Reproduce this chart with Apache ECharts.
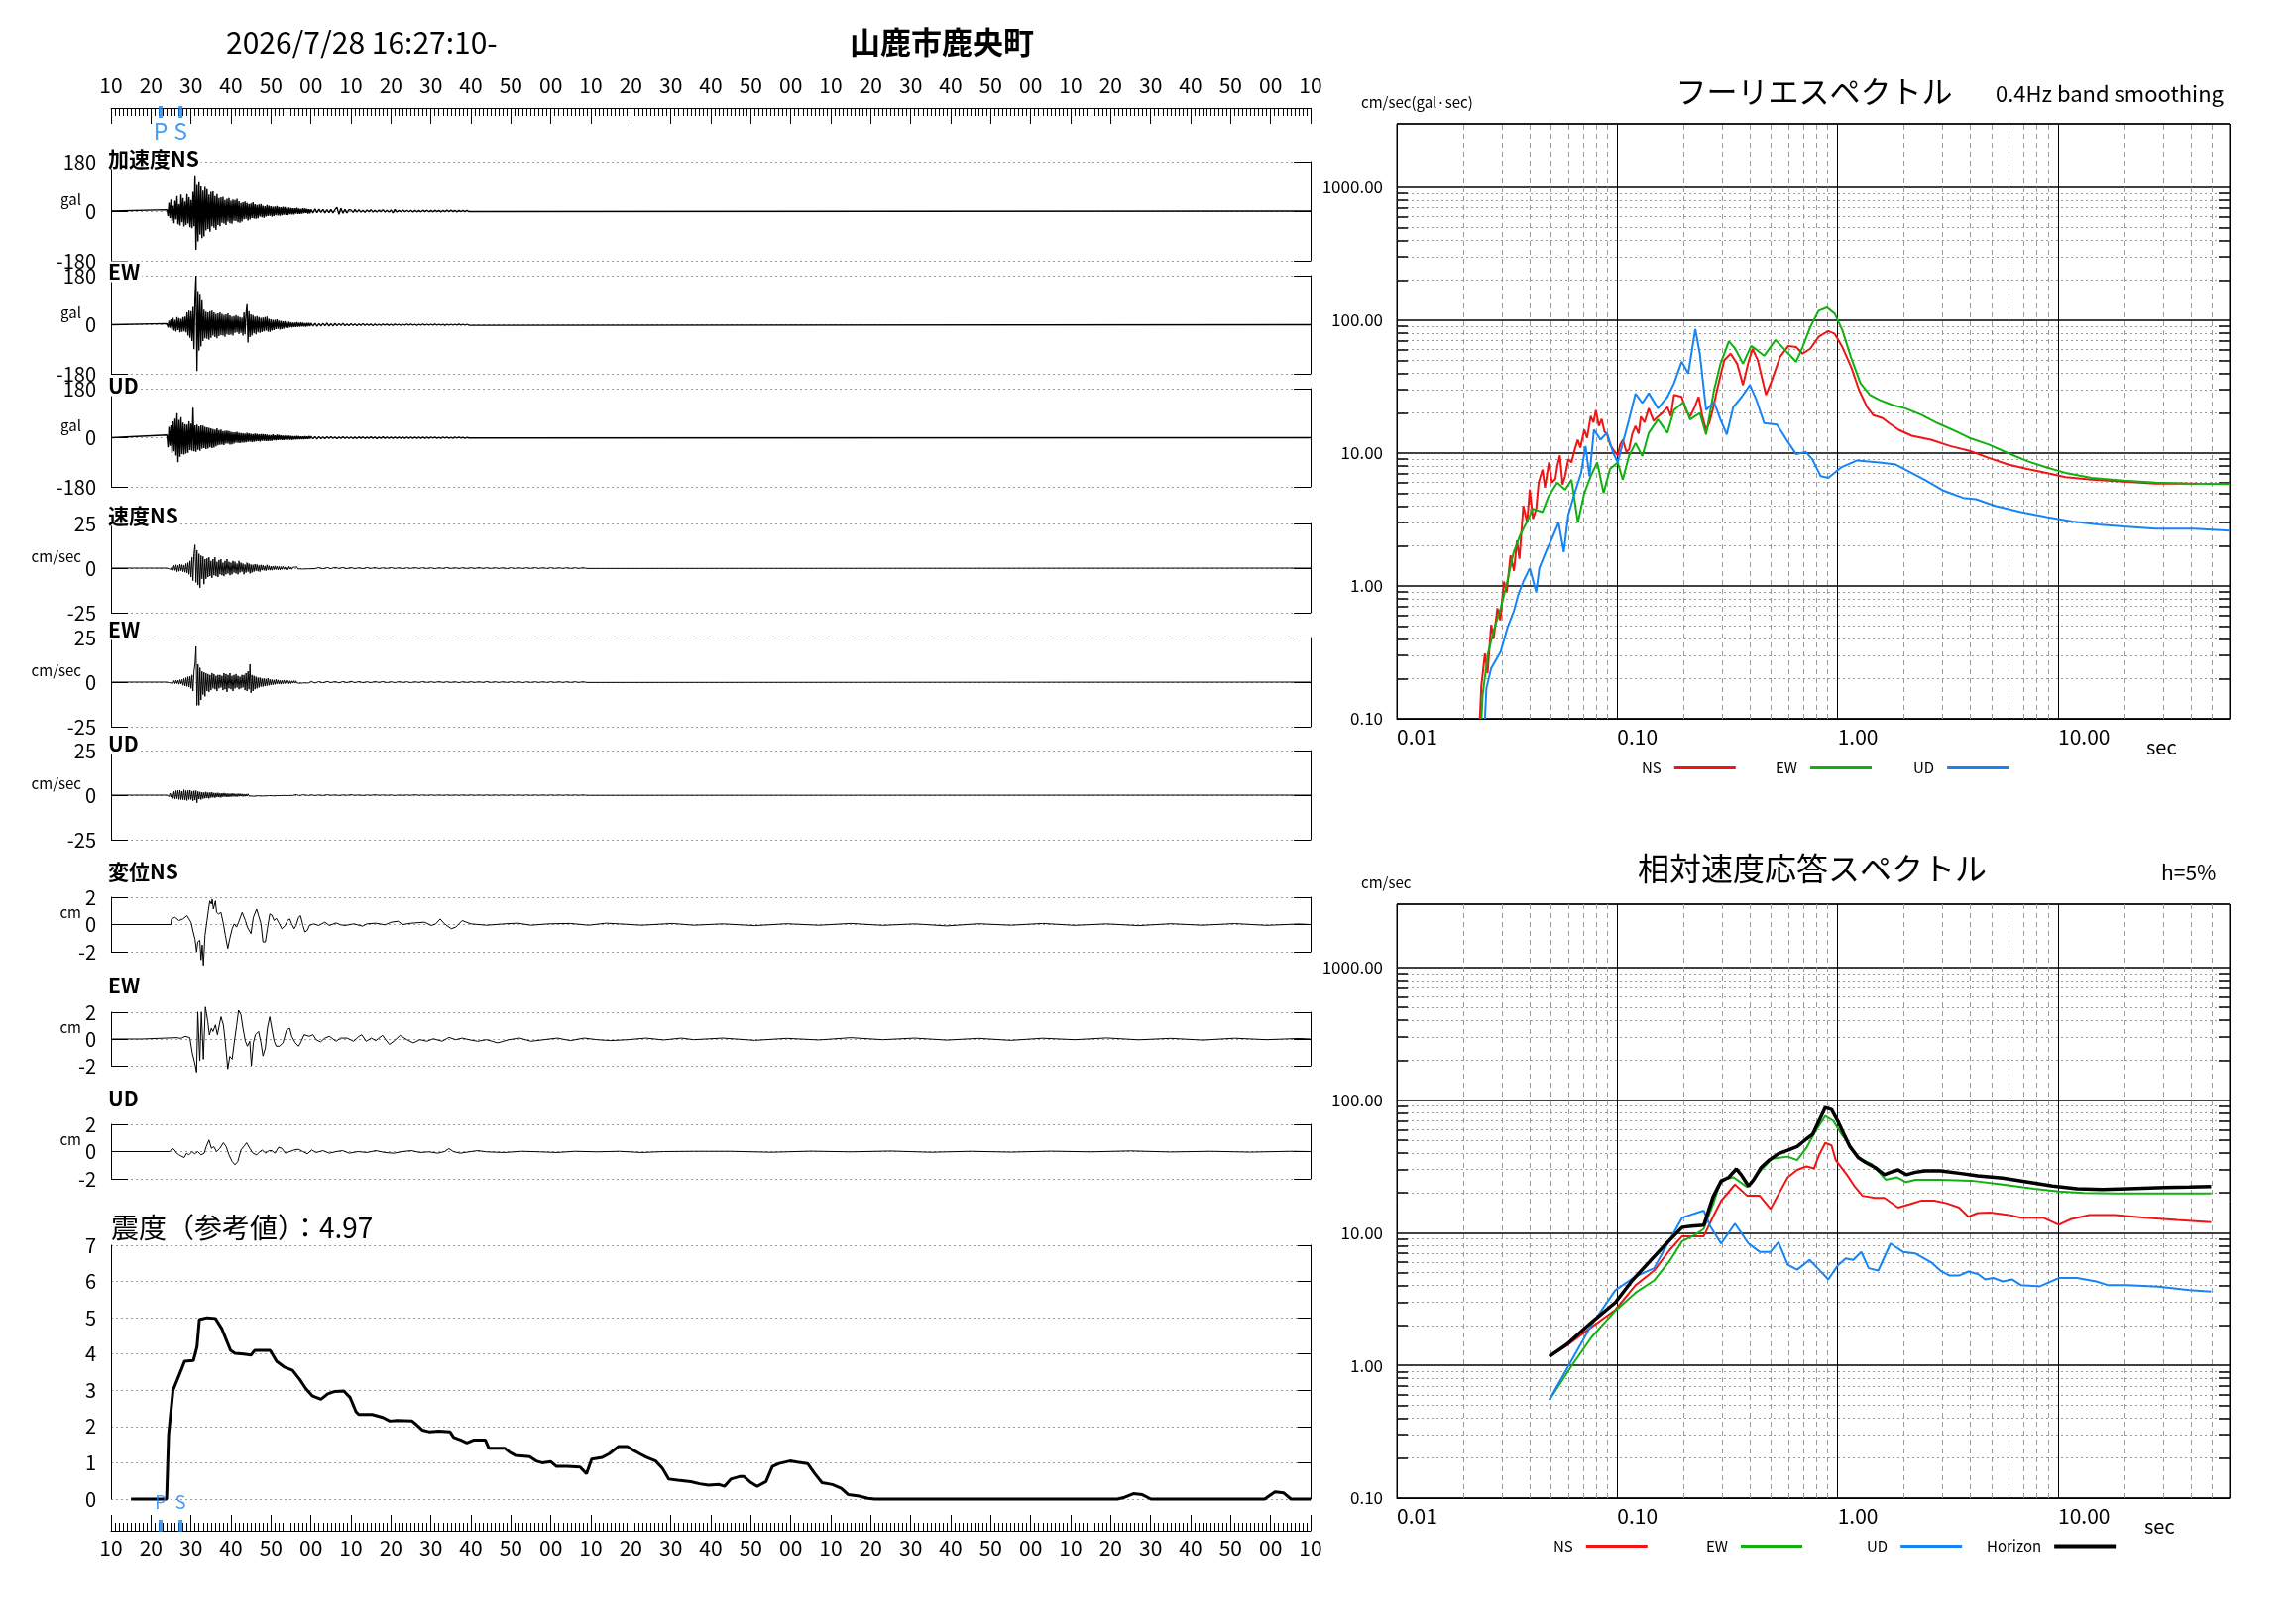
<!DOCTYPE html>
<html>
<head>
<meta charset="utf-8">
<script src="https://cdn.jsdelivr.net/npm/echarts@6/dist/echarts.min.js"></script>
<style>
html, body { margin: 0; padding: 0; background: #fff; }
#main { width: 2316px; height: 1637px; }
</style>
</head>
<body>
<div id="main"></div>
<script>
// ---- data ----
var startSec = 10;          // 16:27:10
var timeMax = 300;          // seconds shown
var phaseTimes = [12.4, 17.4];
var phaseNames = ['P', 'S'];

var waveT0 = 14, waveDt = 0.25;       // dense part of the traces
var tailT0 = 50, accTailDt = 0.5, velTailDt = 1;

// acceleration (gal)
var accNS = [5,-18,30,-25, 42,-35,20,-44, 38,-30,55,-48, 25,-52,60,-40, 48,-56,35,-50, 62,-45,50,-58,
  40,-62,70,-55, 127,-140,95,-110, 105,-85,90,-98, 75,-92,88,-70, 80,-65,60,-75, 70,-55,72,-60,
  55,-68,62,-50, 48,-55,50,-42, 52,-45,40,-50, 45,-38,48,-44, 38,-46,42,-35, 40,-36,45,-40,
  36,-42,30,-38, 32,-30,35,-28, 30,-34,26,-30, 28,-25,32,-27, 25,-28,22,-26, 24,-20,26,-22,
  20,-24,18,-20, 22,-18,20,-17, 18,-20,16,-18, 17,-15,19,-16, 15,-17,14,-15, 16,-13,15,-14,
  12,-14,13,-11, 11,-12,10,-12, 10,-9,12,-10, 9,-10,8,-9, 10,-8,9,-7, 8,-9,7,-8];
var accNSTail = [6,-7,8,-6,7,-5,6,-7,5,-6, 6,-7,5,14,-12,10,-8,6,-7,5, 4,-5,6,-4,5,-4,3,-5,4,-3,
  5,-4,3,-4,4,-3,5,-4,3,-4, 4,-7,6,-4,3,-3,4,-3,3,-3, 3,-4,3,-3,2,-3,3,-2,3,-3,
  2,-3,3,-2,2,-3,2,-2,3,-2, 3,-2,2,-3,2,-2,2,-2,2,-2];
var accEW = [4,-10,15,-12, 20,-18,25,-22, 18,-25,28,-20, 24,-28,22,-26, 28,-24,30,-28, 45,-40,52,-48,
  50,-60,65,-90, 95,180,-170,120, -95,110,-80,90, -60,55,-50,48, -52,45,-55,50, -48,52,-40,45,
  -45,40,-50,42, -42,45,-38,40, -40,36,-44,38, -35,42,-38,34, -36,30,-40,32, -30,35,-28,32,
  -34,28,-30,26, -40,45,-35,38, 75,-65,50,-45, 38,-40,35,-32, 30,-35,32,-28, 28,-30,25,-27,
  26,-24,28,-22, 30,-25,22,-26, 20,-22,18,-20, 18,-16,20,-15, 15,-18,14,-16, 12,-14,13,-11,
  10,-12,11,-10, 9,-10,8,-9, 8,-9,10,-8, 7,-8,9,-7, 8,-7,6,-8, 7,-6,7,-6];
var accEWTail = [6,-5,5,-6,4,-5,5,-4,6,-5, 4,-5,5,-4,4,-3,5,-4,3,-4, 4,-3,3,-4,3,-3,4,-3,3,-3,
  3,-4,3,-3,2,-3,3,-2,3,-3, 2,-3,3,-2,2,-3,2,-2,3,-2, 3,-2,2,-3,2,-2,3,-2,2,-2,
  2,-2,3,-2,2,-2,2,-3,2,-2, 2,-2,2,-2,3,-2,2,-2,2,-2];
var accUD = [10,-35,40,-30, 45,-55,60,-50, 70,-65,90,-90, 65,-70,75,-60, 55,-62,50,-58, 48,-55,60,-45,
  52,-48,110,-50, 45,-52,48,-44, 42,-48,45,-40, 44,-38,40,-42, 38,-40,36,-35, 34,-38,32,-36,
  30,-32,34,-28, 28,-26,30,-25, 24,-27,25,-22, 26,-22,24,-25, 22,-24,20,-22, 20,-18,22,-19,
  18,-20,17,-18, 16,-18,15,-17, 18,-15,16,-14, 14,-16,13,-15, 15,-13,14,-12, 12,-14,13,-11,
  13,-11,12,-12, 11,-12,10,-11, 10,-11,12,-9, 9,-10,11,-9, 10,-8,9,-9, 8,-9,8,-7,
  9,-7,8,-8, 7,-8,6,-7, 6,-7,7,-6, 6,-6,5,-6, 5,-6,6,-5, 5,-5,6,-4];
var accUDTail = [5,-4,4,-5,4,-4,3,-4,4,-3, 4,-3,3,-4,3,-3,4,-3,3,-3, 3,-3,2,-3,3,-2,3,-3,2,-2,
  3,-2,2,-3,2,-2,3,-2,2,-2, 2,-2,2,-2,2,-2,2,-2,2,-2, 2,-2,2,-2,2,-2,2,-2,2,-2,
  2,-1,2,-2,1,-2,2,-1,2,-2, 1,-2,2,-1,2,-1,1,-2,1,-1];

// velocity (cm/sec)
var velNS = [0,0.3,-0.4,0.5, -0.8,1.0,-1.2,1.5, -1.3,1.8,-2.0,1.6, -1.8,2.2,-1.5,1.9, -2.0,1.7,-2.3,2.5,
  -2.8,3.0,-3.5,4.0, -5.0,6.0,-7.0,8.0, 13.0,-8.0,10.0,-9.5, 8.0,-11.0,7.0,-6.0, 6.5,-9.0,5.0,-6.0,
  5.5,-5.0,6.0,-4.5, 4.0,-5.5,5.0,-4.0, 6.0,-4.5,3.5,-5.0, 4.5,-3.5,5.0,-4.0, 3.0,-4.5,4.0,-3.5,
  5.0,-3.0,3.5,-4.0, 3.0,-3.5,4.0,-2.5, 3.5,-3.0,2.5,-3.5, 4.0,-2.5,3.0,-2.0, 2.5,-3.5,2.0,-2.5,
  3.0,-2.0,2.5,-3.0, 2.0,-2.5,1.8,-2.0, 2.2,-1.5,2.0,-1.8, 1.5,-2.0,1.8,-1.2, 1.6,-1.3,1.2,-1.5,
  1.8,-1.0,1.3,-1.2, 1.0,-1.2,1.1,-0.9, 1.2,-0.8,1.0,-1.0, 0.9,-1.0,0.8,-0.7, 1.0,-0.7,0.6,-0.8,
  0.7,-0.8,0.9,-0.6, 0.6,-0.7,0.5,-0.6, 0.5,-0.6,0.7,-0.5, 0.6,-0.4,0.5,-0.5, 0.4,-0.5,0.4,-0.4,
  0.5,-0.4,0.3,-0.4];
var velNSTail = [0.4,-0.3,0.3,-0.4,0.3,-0.3,0.4,-0.2,0.3,-0.3, 0.3,-0.3,0.2,-0.3,0.3,-0.2,0.3,-0.3,0.2,-0.2,
  0.3,-0.2,0.2,-0.3,0.2,-0.2,0.3,-0.2,0.2,-0.2, 0.2,-0.3,0.2,-0.2,0.3,-0.2,0.2,-0.2,0.2,-0.2,
  0.2,-0.2,0.3,-0.2,0.2,-0.2,0.2,-0.2,0.2,-0.3, 0.2,-0.2,0.2,-0.2,0.2,-0.2,0.3,-0.2,0.2,-0.2,
  0.2,-0.2,0.2,-0.2,0.2,-0.2,0.2,-0.2,0.2,-0.2];
var velEW = [0,0.2,-0.3,0.4, -0.5,0.6,-0.7,0.8, -0.9,1.0,-0.8,1.1, -1.2,1.3,-1.0,1.4, -1.8,2.0,-2.2,2.5,
  -2.4,3.0,-2.8,3.2, -3.5,4.0,-5.0,6.0, 10.0,20.0,-13.0,10.0, -13.0,8.0,-10.0,6.0, -7.0,5.5,-8.0,5.0,
  -5.0,4.5,-5.5,4.0, -4.5,5.0,-3.5,4.5, -4.0,3.5,-5.0,4.0, -3.5,4.0,-3.0,3.5, -4.5,5.0,-4.0,4.5,
  -5.5,4.0,-3.5,5.0, -4.0,3.5,-5.0,4.0, -3.5,4.5,-3.0,3.5, -4.0,3.0,-3.5,4.0, -3.0,4.0,-4.5,5.0,
  -5.0,6.0,-4.0,10.0, -6.0,4.0,-5.0,3.5, -4.0,3.0,-3.5,2.5, -3.0,2.5,-2.5,2.0, -2.5,2.0,-2.2,1.8,
  -2.0,2.2,-1.8,1.5, -1.6,1.4,-1.5,1.2, -1.3,1.5,-1.0,1.2, -1.1,1.0,-1.2,0.9, -0.9,1.1,-0.8,0.9,
  -1.0,0.8,-0.9,0.7, -0.8,0.7,-0.6,0.8, -0.6,0.7,-0.5,0.6, -0.6,0.5,-0.6,0.5, -0.5,0.6,-0.4,0.5,
  -0.5,0.4,-0.4,0.5];
var velEWTail = [0.4,-0.5,0.3,-0.4,0.4,-0.3,0.3,-0.4,0.3,-0.3, 0.4,-0.3,0.3,-0.3,0.2,-0.3,0.3,-0.2,0.3,-0.3,
  0.2,-0.3,0.3,-0.2,0.2,-0.3,0.2,-0.2,0.3,-0.2, 0.2,-0.2,0.3,-0.2,0.2,-0.2,0.2,-0.3,0.2,-0.2,
  0.2,-0.2,0.2,-0.2,0.3,-0.2,0.2,-0.2,0.2,-0.2, 0.2,-0.2,0.2,-0.3,0.2,-0.2,0.2,-0.2,0.2,-0.2,
  0.2,-0.2,0.2,-0.2,0.2,-0.2,0.2,-0.2,0.2,-0.2];
var velUD = [0,0.5,-0.8,1.0, -1.2,1.5,-1.8,2.0, -2.2,2.5,-2.0,2.6, -2.4,2.8,-2.5,2.2, -2.6,3.0,-2.8,2.5,
  -3.0,2.6,-2.4,2.8, -2.5,2.2,-3.2,2.4, -2.8,2.5,-4.3,2.0, -2.2,1.8,-2.5,1.6, -2.0,1.5,-1.8,1.8,
  -1.6,1.4,-1.9,1.5, -1.4,1.6,-1.3,1.2, -1.5,1.2,-1.1,1.3, -1.2,1.0,-1.3,1.1, -1.0,1.2,-0.9,1.0,
  -1.1,0.9,-1.0,0.8, -0.9,1.0,-0.8,0.9, -0.8,0.7,-0.9,0.8, -0.7,0.8,-0.6,0.7, -0.8,0.6,-0.7,0.6,
  -0.6,0.7,-0.5,0.6, -0.5,0.6,-0.6,0.5, -0.6,0.5,-0.4,0.5, -0.4,0.5,-0.5,0.4, -0.5,0.4,-0.4,0.5,
  -0.4,0.4,-0.3,0.4, -0.3,0.4,-0.4,0.3, -0.4,0.3,-0.3,0.3, -0.3,0.3,-0.3,0.2, -0.2,0.3,-0.2,0.3,
  -0.3,0.2,-0.2,0.2, -0.2,0.3,-0.2,0.2, 0.2,-0.3,0.2,-0.2, -0.2,0.2,-0.1,0.2, 0.2,-0.2,0.1,-0.2,
  -0.1,0.2,-0.2,0.1];
var velUDTail = [0.2,-0.2,0.1,-0.2,0.2,-0.1,0.1,-0.2,0.1,-0.1, 0.2,-0.1,0.1,-0.2,0.1,-0.1,0.2,-0.1,0.1,-0.1,
  0.1,-0.2,0.1,-0.1,0.1,-0.1,0.2,-0.1,0.1,-0.1, 0.1,-0.1,0.1,-0.1,0.1,-0.1,0.1,-0.1,0.1,-0.1,
  0.1,-0.1,0.1,-0.1,0.1,-0.1,0.1,-0.1,0.1,-0.1, 0.1,-0.1,0.1,-0.1,0.1,-0.1,0.1,-0.1,0.1,-0.1,
  0.1,-0.1,0.1,-0.1,0.1,-0.1,0.1,-0.1,0.1,-0.1];

// displacement (cm), [sec, value]
var dispNS = [[15.0,0],[15.1,0.41],[16.0,0.53],[17.0,0.29],[18.0,0.41],[19.0,0.65],[19.5,0.41],[20.0,0.17],
  [20.5,-0.48],[21.0,-1.08],[21.4,-2.0],[21.7,-1.28],[22.2,-1.16],[22.5,-2.6],[22.8,-1.5],[23.1,-3.0],
  [23.5,-0.8],[24.0,0.29],[24.4,1.13],[24.7,1.73],[25.1,1.5],[25.3,1.86],[25.6,1.13],[26.1,1.73],
  [26.4,0.89],[26.9,0.77],[27.5,0.89],[28.1,0.05],[28.6,-0.8],[29.2,-1.76],[29.7,-1.04],[30.3,-0.31],
  [30.8,0.05],[31.4,-0.19],[31.9,0.17],[32.8,0.89],[33.6,0.29],[34.1,-0.19],[35.0,-0.67],[35.6,0.53],
  [36.4,1.13],[36.9,0.65],[37.5,0.05],[38.0,-1.28],[38.6,-1.28],[39.1,-0.31],[39.7,0.77],[40.2,0.7],
  [40.8,0.29],[41.3,0.46],[41.9,0.17],[42.7,-0.31],[43.6,-0.07],[44.1,0.29],[44.7,0.41],[45.2,0.05],
  [45.8,-0.31],[46.3,-0.07],[46.9,0.53],[47.4,0.65],[48.0,-0.07],[48.5,-0.55],[49.1,-0.43],[49.6,-0.07],
  [50.7,0.05],[51.9,-0.07],[53.5,0.17],[54.6,-0.07],[56.3,0.12],[57.4,-0.02],[58.5,-0.07],[60.7,0.05],
  [62.9,-0.12],[64.0,0.05],[66.2,0.1],[68.5,-0.02],[70.1,0.17],[71.8,0.24],[72.9,0],[75.1,0.1],
  [78.4,0.17],[80.1,-0.07],[81.2,0.05],[82.3,0.41],[83.4,0.05],[85.1,-0.31],[86.2,-0.19],[87.8,0.29],
  [88.9,0.17],[90.0,0.05],[93.9,-0.05],[98.3,0.05],[101.7,0.1],[105.0,-0.05],[109.4,0.05],[114.9,0.08],
  [119.4,-0.05],[123.8,0.1],[127.1,0.05],[132.7,-0.05],[140.4,0.08],[145.7,-0.05],[153,0.05],[161,-0.08],
  [169,0.06],[177,-0.05],[185,0.08],[193,-0.06],[201,0.05],[209,-0.1],[217,0.06],[225,-0.05],[233,0.08],
  [241,-0.06],[249,0.05],[257,-0.08],[265,0.06],[273,-0.05],[281,0.07],[289,-0.06],[297,0.04]];
var dispEW = [[7.6,0],[16.4,0.1],[17.5,0.05],[18.6,0.2],[19.7,0.1],[20.3,-1.02],[20.9,-1.76],[21.4,-2.49],
  [21.7,2.02],[22.2,-1.63],[22.6,2.02],[23.1,-1.51],[23.6,2.39],[24.2,1.3],[24.6,0.3],[25.1,0.8],
  [25.5,0.56],[26.1,1.05],[26.6,0.32],[27.5,1.66],[28.1,1.05],[28.6,-0.3],[29.2,-2.24],[29.7,-1.3],
  [30.3,-1.51],[30.8,-0.3],[31.4,1.0],[31.9,2.15],[32.5,1.8],[33.0,0.8],[33.6,-0.17],[34.1,-0.54],
  [34.7,-0.17],[35.1,-2.0],[35.6,-0.29],[36.1,0.32],[36.9,0.56],[37.5,-0.29],[38.0,-1.27],[38.6,-0.66],
  [39.1,0.8],[39.7,1.66],[40.2,0.8],[40.8,-0.17],[41.3,-0.54],[42.1,-0.54],[43.0,-0.29],[43.9,0.68],
  [44.7,0.8],[45.2,0.2],[46.1,-0.29],[46.9,-0.54],[47.4,-0.29],[48.3,0.32],[49.6,0.2],[50.5,0.32],
  [51.3,-0.05],[52.4,-0.22],[53.5,0.07],[54.6,0.2],[56.3,-0.17],[57.4,0.07],[59.0,0.07],[60.7,-0.17],
  [62.0,0.2],[62.7,0.32],[63.8,-0.17],[65.1,0.07],[66.2,-0.12],[67.9,0.27],[69.6,-0.41],[70.7,-0.17],
  [72.3,0.27],[74.0,-0.05],[75.6,-0.29],[77.3,-0.05],[79.0,-0.17],[80.6,0.02],[82.8,-0.17],[84.5,0.12],
  [86.2,-0.05],[87.8,0.07],[89.5,-0.05],[91.7,-0.17],[93.9,-0.05],[96.7,-0.29],[99.5,-0.05],[102.2,0.07],
  [105.0,-0.17],[108.3,-0.05],[111.6,0.07],[114.9,-0.12],[118.3,0.07],[121.6,-0.05],[124.9,-0.12],
  [129.3,-0.05],[133.8,0.07],[138.2,-0.07],[142.6,0.07],[145.7,-0.05],[153,0.07],[161,-0.1],[169,0.05],
  [177,-0.07],[185,0.1],[193,-0.05],[201,0.07],[209,-0.08],[217,0.05],[225,-0.1],[233,0.06],[241,-0.05],
  [249,0.08],[257,-0.06],[265,0.05],[273,-0.08],[281,0.06],[289,-0.05],[297,0.04]];
var dispUD = [[14.7,0],[15.3,0.24],[15.9,0.12],[16.4,-0.12],[17.0,-0.24],[17.5,-0.32],[18.3,-0.44],[18.9,-0.12],
  [19.5,-0.24],[20.3,0],[20.9,-0.17],[21.7,0],[22.5,-0.24],[23.3,-0.12],[23.8,0.36],[24.5,0.85],
  [25.1,0.24],[25.7,0.36],[26.4,0],[27.2,0.24],[28.1,0.65],[28.8,0.36],[29.5,-0.24],[30.3,-0.73],
  [31.0,-0.97],[31.7,-0.73],[32.5,0.12],[33.3,0.41],[33.9,0.65],[34.7,0.24],[35.5,-0.12],[36.4,-0.24],
  [37.0,-0.07],[37.8,0.12],[38.6,-0.12],[39.5,0.07],[40.2,0.07],[41.0,-0.12],[41.9,0.32],[42.7,0.24],
  [43.6,-0.12],[44.7,0],[45.8,0.12],[46.9,0.17],[48.0,0],[49.1,-0.17],[50.2,0.12],[51.3,-0.07],
  [53.0,0.07],[54.6,-0.12],[56.3,0],[57.9,0.07],[59.6,-0.12],[61.8,0],[64.0,-0.07],[66.2,0.07],
  [68.5,-0.07],[70.7,-0.12],[72.9,0],[75.1,0.07],[77.3,-0.07],[79.5,-0.02],[81.7,-0.12],[83.4,0],
  [84.5,0.22],[85.6,0],[87.3,-0.12],[89.5,-0.02],[91.7,0.07],[93.9,-0.02],[98.3,-0.07],[102.8,0.02],
  [107.2,-0.02],[111.6,-0.07],[116.0,0.02],[121.6,-0.02],[127.1,0.02],[132.7,-0.07],[138.2,0],[145.7,0.02],
  [155,0.02],[165,-0.05],[175,0.03],[185,-0.02],[195,0.04],[205,-0.05],[215,0.02],[225,-0.04],[235,0.03],
  [245,-0.02],[255,0.05],[265,-0.03],[275,0.02],[285,-0.04],[295,0.02]];

// seismic intensity (reference value), [sec, value]
var intensity = [[5,0],[13.9,0],[14.4,1.78],[15.5,3.0],[16.6,3.3],[17.7,3.6],[18.4,3.8],[20.6,3.82],[21.5,4.2],
  [22.1,4.95],[24,5.0],[26.1,4.98],[27.7,4.7],[28.8,4.4],[29.9,4.1],[31,4.02],[33.2,4.0],[35,3.97],[35.9,4.1],
  [39.8,4.1],[41.4,3.8],[43.2,3.65],[45.4,3.55],[47.2,3.3],[48.7,3.05],[50.3,2.85],[52.5,2.75],[54.2,2.9],
  [56,2.97],[58.2,2.98],[59.8,2.8],[61.3,2.4],[62,2.33],[65.3,2.33],[68,2.25],[69.7,2.15],[71.5,2.17],
  [75.3,2.15],[76.4,2.05],[77.9,1.9],[79.7,1.85],[81.9,1.87],[84.8,1.85],[85.7,1.7],[87.4,1.63],[89,1.55],
  [90.8,1.63],[93.6,1.63],[94.5,1.4],[98.5,1.4],[99.6,1.3],[101.2,1.2],[104.7,1.17],[106.3,1.05],[107.8,1.0],
  [110,1.03],[111.4,0.9],[114,0.9],[117.3,0.88],[118.9,0.7],[120.2,1.1],[122.9,1.15],[124.6,1.25],[126.9,1.45],
  [129.1,1.45],[130.6,1.35],[132.2,1.25],[133.9,1.15],[136.2,1.05],[137.9,0.85],[139.5,0.55],[141.7,0.52],
  [145,0.48],[147.2,0.42],[149.4,0.38],[152.1,0.4],[153.4,0.35],[155,0.55],[157.2,0.62],[158.3,0.62],
  [160.1,0.45],[161.6,0.35],[163.8,0.48],[165.4,0.9],[167.1,0.98],[169.8,1.05],[171.6,1.02],[174.2,0.98],
  [176,0.7],[177.8,0.45],[180.4,0.4],[182.6,0.3],[184.4,0.12],[187.1,0.08],[189.3,0.02],[191,0],[251.7,0],
  [253.5,0.05],[255.7,0.15],[257.9,0.12],[260.1,0],[288.5,0],[291.1,0.2],[293.3,0.17],[295.1,0],[300,0]];

// Fourier spectra, [period sec, cm/sec]
var fourierNS = [[0.0238,0.1],[0.0242,0.18],[0.0251,0.31],[0.0258,0.22],[0.0268,0.51],[0.0275,0.4],[0.0286,0.68],
  [0.0295,0.55],[0.0306,1.08],[0.0315,0.9],[0.0328,1.7],[0.034,1.3],[0.0351,2.2],[0.036,1.6],[0.0375,4.0],
  [0.039,3.0],[0.0401,5.3],[0.0415,3.2],[0.0429,3.8],[0.044,6.0],[0.0458,7.5],[0.047,5.5],[0.049,8.5],
  [0.0505,6.0],[0.0524,6.4],[0.0535,8.0],[0.0549,9.6],[0.0565,5.8],[0.058,6.7],[0.06,9.0],[0.062,8.5],
  [0.064,10.5],[0.0662,12.6],[0.068,11.0],[0.0709,15],[0.073,13],[0.0758,19],[0.078,17],[0.08,21],[0.0825,16],
  [0.085,18],[0.0875,14.5],[0.0897,14],[0.093,11.5],[0.0959,10.6],[0.1005,9.6],[0.103,11.5],[0.106,12.6],
  [0.11,10.2],[0.113,10.6],[0.117,14],[0.121,16],[0.125,14],[0.128,18.8],[0.133,17],[0.139,21.7],[0.146,17.5],
  [0.153,18.8],[0.16,20],[0.169,22.2],[0.175,19],[0.181,27.4],[0.196,26.5],[0.205,21],[0.214,18.8],[0.224,22],
  [0.234,26.5],[0.243,19],[0.253,14.9],[0.262,17],[0.271,21.1],[0.286,31.6],[0.306,50],[0.327,56],[0.35,47],
  [0.372,32.5],[0.392,47],[0.411,61],[0.434,50],[0.473,27.4],[0.502,35],[0.548,53],[0.598,64],[0.648,62.8],
  [0.693,56],[0.751,61],[0.82,75],[0.906,83],[0.97,79],[1.05,62.8],[1.15,44.7],[1.25,29.9],[1.36,22.2],
  [1.45,19.3],[1.6,18.3],[1.71,16.8],[1.9,14.9],[2.17,13.5],[2.65,12.6],[3.24,11.3],[3.97,10.4],[4.85,9.2],
  [5.93,8.2],[7.25,7.6],[8.86,7.1],[10.8,6.6],[14.2,6.3],[19.8,6.1],[27.7,5.9],[42.9,5.9]];
var fourierEW = [[0.0242,0.1],[0.0245,0.15],[0.0259,0.31],[0.0277,0.48],[0.0296,0.68],[0.0317,1.08],[0.0339,1.8],
  [0.0362,2.4],[0.0388,3.0],[0.0414,3.8],[0.0458,3.6],[0.049,4.8],[0.0535,6.0],[0.058,5.3],[0.062,6.3],
  [0.0663,3.0],[0.0709,5.0],[0.0758,6.7],[0.0811,8.5],[0.0867,5.0],[0.0927,7.6],[0.1005,8.5],[0.106,6.3],
  [0.113,9.5],[0.121,11.9],[0.13,9.5],[0.139,14.2],[0.153,17.9],[0.169,14.2],[0.181,21.1],[0.2,24.2],
  [0.214,17.9],[0.237,20],[0.253,13.8],[0.275,29.9],[0.294,47],[0.321,69.6],[0.343,61],[0.372,47],[0.405,64],
  [0.434,59],[0.464,54],[0.523,71],[0.586,58],[0.648,48.6],[0.693,62.8],[0.751,88.8],[0.82,118],[0.895,125],
  [0.97,112],[1.051,84],[1.147,53],[1.268,33.6],[1.402,27.4],[1.55,25.1],[1.774,23],[2.028,21.7],[2.398,19.4],
  [2.836,16.8],[3.467,14.5],[3.966,13.0],[4.85,11.6],[5.93,10.0],[7.25,8.7],[8.87,7.8],[10.8,7.1],[14.2,6.5],
  [19.8,6.2],[27.7,6.0],[38.8,5.9],[60,5.85]];
var fourierUD = [[0.0251,0.1],[0.0255,0.17],[0.0268,0.24],[0.0296,0.32],[0.0317,0.48],[0.0339,0.64],[0.0355,0.85],
  [0.0375,1.08],[0.0401,1.36],[0.0429,0.9],[0.0443,1.36],[0.0474,1.8],[0.0507,2.3],[0.0542,3.0],[0.0572,1.8],
  [0.0599,3.4],[0.0641,5.0],[0.0686,7.1],[0.0718,11.3],[0.0748,6.7],[0.0784,15],[0.0839,12.6],[0.0897,14.2],
  [0.0959,10],[0.1005,8.5],[0.106,11.9],[0.113,17.8],[0.121,28],[0.13,23.8],[0.139,28.2],[0.153,21.7],
  [0.169,26.5],[0.181,33.5],[0.196,48.7],[0.21,39.7],[0.226,85.8],[0.237,56],[0.253,21.1],[0.275,24.2],
  [0.294,17.9],[0.314,13.8],[0.336,22.2],[0.367,26.5],[0.4,32.5],[0.428,25.1],[0.464,16.8],[0.53,16.4],
  [0.567,13.8],[0.586,12.6],[0.648,9.8],[0.717,10.2],[0.767,9.0],[0.837,6.7],[0.907,6.5],[1.037,7.8],
  [1.226,8.8],[1.55,8.5],[1.834,8.2],[2.097,7.3],[2.48,6.3],[3.032,5.2],[3.709,4.6],[4.242,4.5],[5.186,4.0],
  [6.783,3.6],[8.87,3.3],[11.6,3.05],[15.2,2.9],[19.8,2.8],[27.7,2.7],[41.5,2.7],[60,2.6]];

// relative velocity response spectra h=5%, [period sec, cm/sec]
var respNS = [[0.0492,1.17],[0.059,1.41],[0.0766,1.95],[0.098,2.62],[0.121,4.02],[0.147,5.19],[0.173,7.42],
  [0.197,9.42],[0.247,9.42],[0.272,13.2],[0.296,17.4],[0.342,23.1],[0.389,19.0],[0.443,19.0],[0.496,15.1],
  [0.539,19.5],[0.594,26.2],[0.655,29.8],[0.722,31.6],[0.782,30.6],[0.823,38.5],[0.879,47.6],[0.938,45.6],
  [0.98,35.3],[1.101,27.4],[1.191,22.5],[1.297,19.0],[1.476,18.3],[1.63,18.3],[1.88,15.5],[2.113,16.4],
  [2.404,17.5],[2.74,17.5],[3.12,16.7],[3.556,15.5],[3.92,13.2],[4.325,14.1],[4.92,14.2],[5.98,13.6],
  [6.81,13.0],[8.55,13.0],[10.07,11.5],[11.5,12.7],[13.9,13.6],[18.1,13.6],[25.0,13.0],[34.7,12.5],[49.5,12.0]];
var respEW = [[0.0492,0.55],[0.063,1.03],[0.0766,1.64],[0.098,2.58],[0.121,3.53],[0.147,4.37],[0.173,6.15],
  [0.197,8.65],[0.224,9.58],[0.247,10.7],[0.272,16.4],[0.296,25.1],[0.337,26.2],[0.389,22.1],[0.45,29.8],
  [0.505,36.2],[0.594,37.5],[0.655,35.3],[0.722,43.7],[0.796,58.9],[0.879,76.0],[0.955,69.8],[1.033,56.5],
  [1.138,45.6],[1.256,36.2],[1.429,33.0],[1.653,25.1],[1.852,26.2],[2.046,24.1],[2.255,25.1],[2.924,25.1],
  [4.05,24.7],[5.61,23.1],[7.77,21.5],[10.07,20.5],[13.06,20.0],[18.1,19.8],[28.5,19.8],[49.5,19.8]];
var respUD = [[0.0492,0.55],[0.059,0.94],[0.0766,2.03],[0.098,3.69],[0.121,4.68],[0.147,5.41],[0.167,7.94],
  [0.197,13.0],[0.247,14.7],[0.264,11.2],[0.296,8.3],[0.342,11.7],[0.394,8.3],[0.443,7.18],[0.496,7.18],
  [0.539,8.5],[0.594,5.74],[0.655,5.27],[0.746,6.25],[0.823,5.27],[0.907,4.45],[1.0,5.65],[1.088,6.41],
  [1.177,6.25],[1.28,7.18],[1.383,5.41],[1.528,5.19],[1.738,8.3],[1.98,7.18],[2.255,6.98],[2.652,6.0],
  [2.924,5.19],[3.22,4.76],[3.556,4.76],[3.92,5.1],[4.325,4.89],[4.67,4.45],[5.08,4.56],[5.61,4.3],
  [6.18,4.45],[6.81,4.02],[8.28,3.95],[10.07,4.56],[12.2,4.56],[14.9,4.3],[16.9,4.02],[20.6,4.02],
  [28.5,3.92],[39.4,3.69],[49.5,3.6]];
var respH = [[0.0492,1.17],[0.059,1.44],[0.0766,2.12],[0.098,2.98],[0.117,4.37],[0.138,5.89],[0.167,8.3],
  [0.197,11.0],[0.217,11.2],[0.247,11.4],[0.272,18.6],[0.296,24.5],[0.321,26.2],[0.347,30.3],[0.365,27.4],
  [0.394,22.5],[0.416,25.1],[0.45,31.1],[0.489,35.3],[0.539,39.5],[0.594,41.9],[0.655,44.8],[0.722,51],
  [0.771,55.5],[0.823,69.8],[0.879,87.9],[0.938,85.0],[1.0,69.8],[1.067,55.5],[1.138,44.5],[1.239,36.9],
  [1.34,33.9],[1.476,31.1],[1.63,27.4],[1.738,28.6],[1.88,29.8],[2.046,27.4],[2.255,28.6],[2.486,29.3],
  [2.924,29.3],[3.556,28.1],[4.325,26.9],[5.61,25.8],[7.28,24.1],[9.44,22.5],[12.2,21.5],[15.9,21.2],
  [20.6,21.5],[30.4,21.9],[39.4,22.1],[49.5,22.3]];

// ---- chart ----
var FONT = '"Noto Sans CJK JP", "Noto Sans", sans-serif';
var RED = '#f01414', GREEN = '#10b010', BLUE = '#1684f5';

function timed(t0, dt, vals) {
  return vals.map(function (v, i) { return [t0 + i * dt, v]; });
}
function trace(dense, tail, tailDt) {
  return [[0, 0]].concat(timed(waveT0, waveDt, dense), timed(tailT0, tailDt, tail), [[timeMax, 0]]);
}
function traceXY(pairs) {
  return [[0, 0]].concat(pairs, [[timeMax, 0]]);
}

var panels = [
  { label: '加速度NS', unit: 'gal', lim: 180, top: 163, h: 100, dy: -3, data: trace(accNS, accNSTail, accTailDt), w: 1.4 },
  { label: 'EW', unit: 'gal', lim: 180, top: 278, h: 99, dy: -4, data: trace(accEW, accEWTail, accTailDt), w: 1.3 },
  { label: 'UD', unit: 'gal', lim: 180, top: 392, h: 99, dy: -3, data: trace(accUD, accUDTail, accTailDt), w: 1.4 },
  { label: '速度NS', unit: 'cm/sec', lim: 25, top: 528, h: 90, dy: -8, data: trace(velNS, velNSTail, velTailDt), w: 1 },
  { label: 'EW', unit: 'cm/sec', lim: 25, top: 643, h: 90, dy: -8, data: trace(velEW, velEWTail, velTailDt), w: 1 },
  { label: 'UD', unit: 'cm/sec', lim: 25, top: 757, h: 90, dy: -7, data: trace(velUD, velUDTail, velTailDt), w: 1 },
  { label: '変位NS', unit: 'cm', lim: 2, top: 905, h: 55, dy: -26, data: traceXY(dispNS), w: 1 },
  { label: 'EW', unit: 'cm', lim: 2, top: 1021, h: 54, dy: -27, data: traceXY(dispEW), w: 1 },
  { label: 'UD', unit: 'cm', lim: 2, top: 1134, h: 55, dy: -26, data: traceXY(dispUD), w: 1 }
];

var PL = 112, PW = 1210;
var grids = [], xAxes = [], yAxes = [], series = [], texts = [];

function txt(x, y, s, size, align, extra) {
  var st = { text: s, font: size + 'px ' + FONT, fill: '#000',
    align: align, verticalAlign: 'middle', textAlign: align, textVerticalAlign: 'middle' };
  if (extra) { for (var k in extra) st[k] = extra[k]; }
  return { type: 'text', x: x, y: y, z: 50, silent: true, style: st };
}

var dotted = { color: '#9a9a9a', type: [2, 3], width: 1 };

panels.forEach(function (p, i) {
  grids.push({ left: PL, top: p.top, width: PW, height: p.h });
  xAxes.push({ gridIndex: i, type: 'value', min: 0, max: timeMax, show: false });
  yAxes.push({
    gridIndex: i, type: 'value', position: 'left', min: -p.lim, max: p.lim, interval: p.lim,
    axisLine: { show: true, lineStyle: { color: '#000', width: 1 } },
    axisTick: { show: true, inside: true, length: 17, lineStyle: { color: '#000' } },
    axisLabel: { color: '#000', fontSize: 20, margin: 15, fontFamily: FONT },
    splitLine: { show: true, lineStyle: dotted }
  });
  yAxes.push({
    gridIndex: i, type: 'value', position: 'right', min: -p.lim, max: p.lim, interval: p.lim,
    axisLine: { show: true, lineStyle: { color: '#000', width: 1 } },
    axisTick: { show: true, inside: true, length: 17, lineStyle: { color: '#000' } },
    axisLabel: { show: false }, splitLine: { show: false }
  });
  series.push({
    type: 'line', xAxisIndex: i, yAxisIndex: 2 * i, data: p.data, symbol: 'none', clip: false,
    silent: true, lineStyle: { color: '#000', width: p.w }
  });
  var zeroY = p.top + p.h / 2;
  texts.push(txt(109, p.top + p.dy, p.label, 21, 'left',
    { font: 'bold 21px ' + FONT, backgroundColor: '#fff', padding: [0, 2, 0, 0] }));
  texts.push(txt(82, zeroY - 12, p.unit, 15, 'right'));
});

// intensity panel
var gI = panels.length;
grids.push({ left: PL, top: 1256, width: PW, height: 256 });
xAxes.push({ gridIndex: gI, type: 'value', min: 0, max: timeMax, show: false });
yAxes.push({
  gridIndex: gI, type: 'value', position: 'left', min: 0, max: 7, interval: 1,
  axisLine: { show: true, lineStyle: { color: '#000' } }, axisTick: { show: false },
  axisLabel: { color: '#000', fontSize: 20, margin: 15, fontFamily: FONT },
  splitLine: { show: true, lineStyle: dotted }
});
yAxes.push({
  gridIndex: gI, type: 'value', position: 'right', min: 0, max: 7, interval: 1,
  axisLine: { show: true, lineStyle: { color: '#000' } },
  axisTick: { show: true, inside: true, length: 13, lineStyle: { color: '#000' } },
  axisLabel: { show: false }, splitLine: { show: false }
});
var yI = yAxes.length - 2;
series.push({
  type: 'line', xAxisIndex: gI, yAxisIndex: yI, data: intensity, symbol: 'none', clip: false,
  silent: true, lineStyle: { color: '#000', width: 3 }
});
texts.push(txt(112, 1238, '震度（参考値）：4.97', 28, 'left'));

// time rulers (top and bottom)
function timeLabel(v) { return ('0' + ((v + startSec) % 60)).slice(-2); }
function ruler(top, h, pos, labelMargin, markOffset, labelPos, labelDist, labelSize) {
  var gi = grids.length;
  grids.push({ left: PL, top: top, width: PW, height: h });
  xAxes.push({
    gridIndex: gi, type: 'value', position: pos, min: 0, max: timeMax, interval: 10,
    axisLine: { show: true, onZero: false, lineStyle: { color: '#000', width: 1 } },
    axisTick: { show: true, inside: true, length: 16, lineStyle: { color: '#000' } },
    minorTick: { show: true, splitNumber: 10, length: 8, lineStyle: { color: '#000' } },
    axisLabel: { color: '#000', fontSize: 21, margin: labelMargin, fontFamily: FONT, formatter: timeLabel },
    splitLine: { show: false }
  });
  yAxes.push({ gridIndex: gi, type: 'value', min: 0, max: 1, show: false });
  series.push({
    type: 'scatter', xAxisIndex: gi, yAxisIndex: yAxes.length - 1, silent: true, z: 5,
    data: phaseTimes.map(function (t) { return [t, 0.5]; }),
    symbol: 'rect', symbolSize: [4, 12], symbolOffset: [0, markOffset],
    itemStyle: { color: BLUE },
    label: {
      show: true, position: labelPos, distance: labelDist, color: BLUE, fontSize: labelSize, fontFamily: FONT,
      formatter: function (p) { return phaseNames[p.dataIndex]; }
    }
  });
}
ruler(109, 12, 'top', 12, -2, 'bottom', 2, 23);
ruler(1528, 16, 'bottom', 7, 3, 'top', 9, 18);

// log-log spectrum panels
var LX0 = 0.01, LX1 = 60, LY0 = 0.1, LY1 = 3000;
function decadeLabel(v) {
  var l = Math.log(v) / Math.LN10;
  return Math.abs(l - Math.round(l)) < 1e-6 ? v.toFixed(2) : '';
}
function minorLines() {
  var out = [];
  var dash = { color: '#9a9a9a', type: [5, 4], width: 1 };
  var dot = { color: '#9a9a9a', type: [2, 3], width: 1 };
  var stubStyle = { color: '#000', type: 'solid', width: 1.5 };
  var stub = Math.pow(10, 11 / 222);
  [0.01, 0.1, 1, 10].forEach(function (d) {
    for (var k = 2; k <= 9; k++) {
      if (k * d < LX1) out.push({ xAxis: k * d, lineStyle: dash });
    }
  });
  [0.1, 1, 10, 100].forEach(function (d) {
    for (var k = 2; k <= 9; k++) {
      var v = k * d;
      out.push({ yAxis: v, lineStyle: dot });
      out.push([{ coord: [LX0, v], lineStyle: stubStyle }, { coord: [LX0 * stub, v], lineStyle: stubStyle }]);
      out.push([{ coord: [LX1 / stub, v], lineStyle: stubStyle }, { coord: [LX1, v], lineStyle: stubStyle }]);
    }
  });
  return out;
}
function logPanel(top, height, lines) {
  var gi = grids.length;
  grids.push({ left: 1409, top: top, width: 840, height: height, show: true, borderColor: '#000', borderWidth: 1 });
  xAxes.push({
    gridIndex: gi, type: 'log', logBase: 10, min: LX0, max: LX1,
    axisLine: { show: true, onZero: false, lineStyle: { color: '#000' } }, axisTick: { show: false },
    axisLabel: { color: '#000', fontSize: 21, margin: 8, align: 'left', fontFamily: FONT, formatter: decadeLabel },
    splitLine: { show: true, lineStyle: { color: '#000', width: 1 } }
  });
  yAxes.push({
    gridIndex: gi, type: 'log', logBase: 10, min: LY0, max: LY1,
    axisLine: { show: true, onZero: false, lineStyle: { color: '#000' } }, axisTick: { show: false },
    axisLabel: { color: '#000', fontSize: 17, margin: 14, fontFamily: FONT, formatter: decadeLabel },
    splitLine: { show: true, lineStyle: { color: '#000', width: 1.5 } }
  });
  var yi = yAxes.length - 1;
  lines.forEach(function (l, j) {
    var s = {
      type: 'line', name: l.name, xAxisIndex: gi, yAxisIndex: yi, data: l.data, symbol: 'none',
      silent: true, z: 3 + j, lineStyle: { color: l.color, width: l.width }, itemStyle: { color: l.color }
    };
    if (j === 0) {
      s.markLine = {
        silent: true, symbol: ['none', 'none'], label: { show: false }, z: 1, animation: false,
        emphasis: { disabled: true }, data: minorLines()
      };
    }
    series.push(s);
  });
}
logPanel(125, 600, [
  { name: 'NS', data: fourierNS, color: RED, width: 2 },
  { name: 'EW', data: fourierEW, color: GREEN, width: 2 },
  { name: 'UD', data: fourierUD, color: BLUE, width: 2 }
]);
logPanel(912, 599, [
  { name: 'NS', data: respNS, color: RED, width: 2 },
  { name: 'EW', data: respEW, color: GREEN, width: 2 },
  { name: 'UD', data: respUD, color: BLUE, width: 2 },
  { name: 'Horizon', data: respH, color: '#000', width: 3.5 }
]);

function legendItem(name, left, centerY, thick) {
  return {
    data: [name], left: left, top: centerY - 9, orient: 'horizontal', align: 'right', padding: 0,
    icon: 'rect', itemWidth: 62, itemHeight: thick, selectedMode: false,
    textStyle: { fontSize: 15, color: '#000', fontFamily: FONT, padding: [0, 8, 0, 0] }
  };
}
var legends = [
  legendItem('NS', 1656, 776, 3), legendItem('EW', 1791, 776, 3), legendItem('UD', 1930, 776, 3),
  legendItem('NS', 1567, 1561, 3), legendItem('EW', 1721, 1561, 3), legendItem('UD', 1883, 1561, 3),
  legendItem('Horizon', 2004, 1561, 4)
];

texts.push(txt(228, 43, '2026/7/28 16:27:10-', 30, 'left'));
texts.push(txt(950, 42, '山鹿市鹿央町', 32, 'center', { font: 'bold 31px ' + FONT }));
texts.push(txt(1830, 92, 'フーリエスペクトル', 31, 'center'));
texts.push(txt(2013, 95, '0.4Hz band smoothing', 22, 'left'));
texts.push(txt(1373, 103, 'cm/sec(gal·sec)', 15, 'left'));
texts.push(txt(2165, 753, 'sec', 20, 'left'));
texts.push(txt(1828, 876, '相対速度応答スペクトル', 32, 'center'));
texts.push(txt(2180, 880, 'h=5%', 21, 'left'));
texts.push(txt(1373, 890, 'cm/sec', 15, 'left'));
texts.push(txt(2163, 1539, 'sec', 20, 'left'));

var myChart = echarts.init(document.getElementById('main'));
var option = {
  backgroundColor: '#fff',
  animation: false,
  textStyle: { fontFamily: FONT },
  grid: grids,
  xAxis: xAxes,
  yAxis: yAxes,
  legend: legends,
  series: series,
  graphic: { elements: texts }
};
myChart.setOption(option);
</script>
</body>
</html>
